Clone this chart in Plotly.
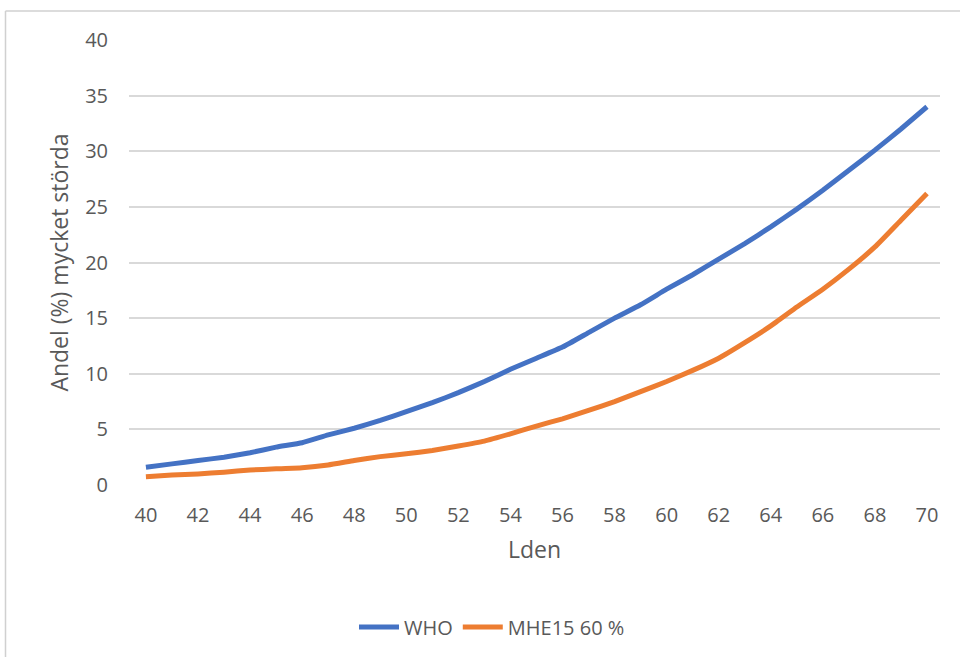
import plotly.graph_objects as go

# Lden levels (dB)
lden = list(range(40, 71))

# Share (%) highly annoyed
who = [1.6, 1.9, 2.2, 2.5, 2.9, 3.4, 3.8, 4.5, 5.1, 5.8,
       6.6, 7.4, 8.3, 9.3, 10.4, 11.4, 12.4, 13.7, 15.0, 16.2,
       17.6, 18.9, 20.3, 21.7, 23.2, 24.8, 26.5, 28.3, 30.1, 32.0, 34.0]
mhe15 = [0.75, 0.9, 1.0, 1.15, 1.35, 1.45, 1.55, 1.8, 2.2, 2.55,
         2.8, 3.1, 3.5, 3.95, 4.6, 5.3, 5.95, 6.7, 7.5, 8.4,
         9.3, 10.3, 11.4, 12.8, 14.3, 16.0, 17.6, 19.4, 21.4, 23.8, 26.2]

series_names = ["WHO", "MHE15 60 %"]
colors = ["#4472C4", "#ED7D31"]
x_ticks = list(range(40, 71, 2))
y_ticks = list(range(0, 41, 5))

FONT = "Open Sans, Noto Sans, sans-serif"
GREY = "#595959"

fig = go.Figure()
for name, vals, col in zip(series_names, [who, mhe15], colors):
    fig.add_trace(go.Scatter(
        x=lden, y=vals, name=name, mode="lines",
        line=dict(color=col, width=5, shape="spline", smoothing=0.4),
    ))

# plot area in pixels
L, R, T, B = 129, 940, 40, 486
W, H = 960, 657
pw, ph = R - L, B - T

def px_x(p):
    return (p - L) / pw

def px_y(p):
    return (B - p) / ph

fig.update_layout(
    width=W, height=H,
    margin=dict(l=L, r=W - R, t=T, b=H - B),
    paper_bgcolor="white", plot_bgcolor="white",
    font=dict(family=FONT, size=20, color=GREY),
    showlegend=True,
    legend=dict(
        orientation="h", x=px_x(492), xanchor="center",
        y=px_y(627), yanchor="middle",
        font=dict(size=20, color=GREY),
        itemwidth=40, tracegroupgap=0,
    ),
    xaxis=dict(
        range=[39.35, 70.5], tickvals=x_ticks, ticktext=[str(t) for t in x_ticks],
        showgrid=False, zeroline=False, showline=False, ticks="",
        tickfont=dict(size=20, color=GREY), ticklabelstandoff=16,
        title=dict(text="Lden", font=dict(size=23, color=GREY), standoff=14),
    ),
    yaxis=dict(
        range=[0, 40], tickvals=y_ticks,
        showgrid=True, gridcolor="#D9D9D9", gridwidth=1.5,
        zeroline=False, showline=False, ticks="",
        tickfont=dict(size=20, color=GREY), ticklabelstandoff=20,
        title=dict(text="Andel (%) mycket störda", font=dict(size=23, color=GREY), standoff=10),
    ),
    shapes=[
        # outer chart frame (left and top edges)
        dict(type="line", xref="paper", yref="paper",
             x0=px_x(5.5), x1=px_x(5.5), y0=px_y(11), y1=px_y(660),
             line=dict(color="#D0D0D0", width=1.5)),
        dict(type="line", xref="paper", yref="paper",
             x0=px_x(5.5), x1=px_x(965), y0=px_y(11), y1=px_y(11),
             line=dict(color="#D0D0D0", width=1.5)),
    ],
)

fig.write_html("out.html")
